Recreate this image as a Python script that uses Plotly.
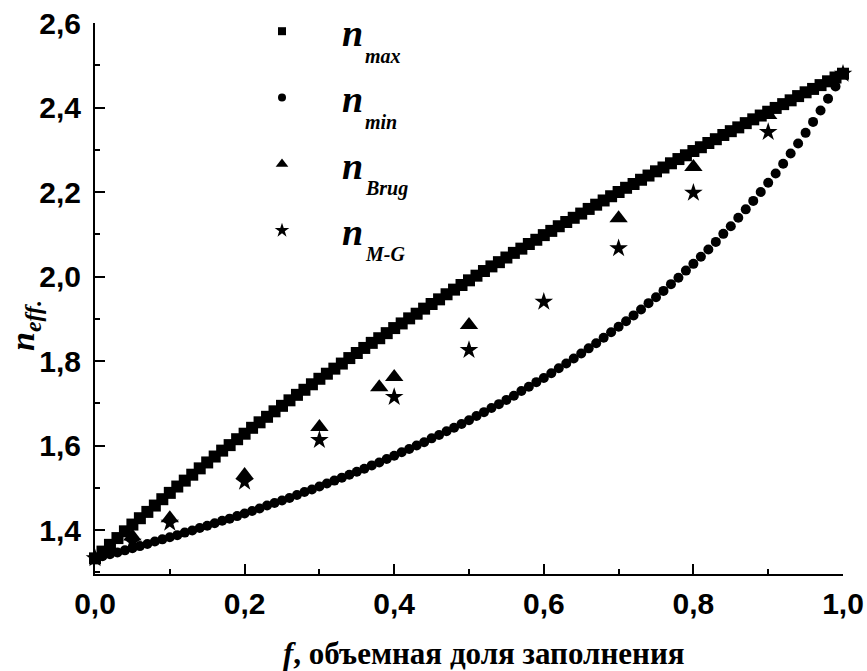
import plotly.graph_objects as go

# volume filling fraction grid for the bound curves
f_grid = [0.00, 0.01, 0.02, 0.03, 0.04, 0.05, 0.06, 0.07, 0.08, 0.09,
          0.10, 0.11, 0.12, 0.13, 0.14, 0.15, 0.16, 0.17, 0.18, 0.19,
          0.20, 0.21, 0.22, 0.23, 0.24, 0.25, 0.26, 0.27, 0.28, 0.29,
          0.30, 0.31, 0.32, 0.33, 0.34, 0.35, 0.36, 0.37, 0.38, 0.39,
          0.40, 0.41, 0.42, 0.43, 0.44, 0.45, 0.46, 0.47, 0.48, 0.49,
          0.50, 0.51, 0.52, 0.53, 0.54, 0.55, 0.56, 0.57, 0.58, 0.59,
          0.60, 0.61, 0.62, 0.63, 0.64, 0.65, 0.66, 0.67, 0.68, 0.69,
          0.70, 0.71, 0.72, 0.73, 0.74, 0.75, 0.76, 0.77, 0.78, 0.79,
          0.80, 0.81, 0.82, 0.83, 0.84, 0.85, 0.86, 0.87, 0.88, 0.89,
          0.90, 0.91, 0.92, 0.93, 0.94, 0.95, 0.96, 0.97, 0.98, 0.99,
          1.00]

# upper bound n_max
n_max = [1.333, 1.349, 1.365, 1.381, 1.397, 1.413, 1.428, 1.443, 1.458, 1.473,
         1.488, 1.503, 1.517, 1.531, 1.546, 1.560, 1.574, 1.588, 1.601, 1.615,
         1.628, 1.642, 1.655, 1.668, 1.681, 1.694, 1.707, 1.720, 1.732, 1.745,
         1.758, 1.770, 1.782, 1.794, 1.807, 1.819, 1.831, 1.843, 1.854, 1.866,
         1.878, 1.889, 1.901, 1.912, 1.924, 1.935, 1.946, 1.958, 1.969, 1.980,
         1.991, 2.002, 2.013, 2.024, 2.034, 2.045, 2.056, 2.066, 2.077, 2.087,
         2.098, 2.108, 2.119, 2.129, 2.139, 2.149, 2.160, 2.170, 2.180, 2.190,
         2.200, 2.210, 2.219, 2.229, 2.239, 2.249, 2.258, 2.268, 2.278, 2.287,
         2.297, 2.306, 2.316, 2.325, 2.335, 2.344, 2.353, 2.363, 2.372, 2.381,
         2.390, 2.399, 2.408, 2.417, 2.427, 2.436, 2.444, 2.453, 2.462, 2.471,
         2.480]

# lower bound n_min
n_min = [1.333, 1.338, 1.343, 1.347, 1.352, 1.357, 1.362, 1.367, 1.373, 1.378,
         1.383, 1.388, 1.394, 1.399, 1.405, 1.410, 1.416, 1.422, 1.427, 1.433,
         1.439, 1.445, 1.451, 1.458, 1.464, 1.470, 1.476, 1.483, 1.490, 1.496,
         1.503, 1.510, 1.517, 1.524, 1.531, 1.538, 1.545, 1.553, 1.560, 1.568,
         1.576, 1.584, 1.592, 1.600, 1.608, 1.617, 1.625, 1.634, 1.642, 1.651,
         1.660, 1.670, 1.679, 1.689, 1.698, 1.708, 1.718, 1.729, 1.739, 1.750,
         1.760, 1.771, 1.783, 1.794, 1.806, 1.818, 1.830, 1.842, 1.855, 1.868,
         1.881, 1.894, 1.908, 1.922, 1.937, 1.951, 1.966, 1.982, 1.997, 2.014,
         2.030, 2.047, 2.064, 2.082, 2.101, 2.119, 2.139, 2.159, 2.179, 2.200,
         2.222, 2.244, 2.267, 2.291, 2.315, 2.340, 2.366, 2.393, 2.421, 2.450,
         2.480]

# Bruggeman model points
f_brug = [0.05, 0.10, 0.20, 0.30, 0.38, 0.40, 0.50, 0.70, 0.80, 0.90]
n_brug = [1.385, 1.428, 1.530, 1.644, 1.738, 1.762, 1.885, 2.138, 2.259, 2.382]

# Maxwell-Garnett model points
f_mg = [0.00, 0.05, 0.10, 0.20, 0.30, 0.40, 0.50, 0.60, 0.70, 0.80, 0.90, 1.00]
n_mg = [1.333, 1.372, 1.417, 1.514, 1.613, 1.715, 1.826, 1.940, 2.067, 2.198, 2.342, 2.480]

x_ticks = [0.0, 0.2, 0.4, 0.6, 0.8, 1.0]
y_ticks = [1.4, 1.6, 1.8, 2.0, 2.2, 2.4, 2.6]

BLACK = "#000000"
SERIF = "Liberation Serif"
SANS = "Liberation Sans"

fig = go.Figure()

series = [
    (f_grid, n_max, "square", 12, 8, "max"),
    (f_grid, n_min, "circle", 10, 8, "min"),
    (f_brug, n_brug, "triangle-up", 16, 11, "Brug"),
    (f_mg, n_mg, "star", 14, 11, "M-G"),
]

for i, (xs, ys, sym, size, leg_size, sub) in enumerate(series):
    fig.add_trace(go.Scatter(
        x=xs, y=ys, mode="markers",
        marker=dict(symbol=sym, size=size, color=BLACK, line=dict(width=0)),
        showlegend=False, cliponaxis=False,
    ))
    # legend entry with its own symbol size
    fig.add_trace(go.Scatter(
        x=[None], y=[None], mode="markers",
        marker=dict(symbol=sym, size=leg_size, color=BLACK, line=dict(width=0)),
        name="<b><i>n</i></b>", legendgroup=f"g{i}", showlegend=True,
    ))

axis_common = dict(
    showline=True, linecolor=BLACK, linewidth=2, mirror=False,
    showgrid=False, zeroline=False,
    ticks="inside", ticklen=10, tickwidth=2, tickcolor=BLACK,
    tickfont=dict(family=SANS, size=30, color=BLACK, weight="bold"),
    tickformat=".1f",
    minor=dict(ticks="inside", ticklen=5, tickwidth=2, tickcolor=BLACK, dtick=0.1, showgrid=False),
)

fig.update_xaxes(range=[0, 1.0], tickmode="array", tickvals=x_ticks, ticklabelstandoff=2, **axis_common)
fig.update_yaxes(range=[1.296, 2.6], tickmode="array", tickvals=y_ticks, ticklabelstandoff=6, **axis_common)
fig.update_xaxes(minor=dict(tick0=0))
fig.update_yaxes(minor=dict(tick0=1.3))

annotations = []
# subscripts of the legend entries
for j, sub in enumerate(["max", "min", "Brug", "M-G"]):
    annotations.append(dict(
        xref="paper", yref="paper", x=(363 - 95) / 748, y=(574 - (56 + 66 * j)) / 551,
        xanchor="left", yanchor="middle", showarrow=False,
        text=f"<b><i>{sub}</i></b>", font=dict(family=SERIF, size=20, color=BLACK),
    ))

# y-axis title
annotations.append(dict(
    xref="paper", yref="paper", x=0, y=(574 - 326) / 551, xshift=-70,
    xanchor="center", yanchor="middle", showarrow=False, textangle=-90,
    text="<b><i>n</i></b><sub><b><i>eff.</i></b></sub>",
    font=dict(family=SERIF, size=34, color=BLACK),
))
# x-axis title
annotations.append(dict(
    xref="paper", yref="paper", x=(484 - 95) / 748, y=0, yshift=-79,
    xanchor="center", yanchor="middle", showarrow=False,
    text="<b><i>f</i>, объемная доля заполнения</b>",
    font=dict(family=SERIF, size=31, color=BLACK),
))

fig.update_layout(
    width=867, height=671,
    margin=dict(l=95, r=24, t=23, b=97, autoexpand=False),
    paper_bgcolor="white", plot_bgcolor="white",
    separators=", ",
    showlegend=True,
    legend=dict(
        x=(222 - 95) / 748, y=(574 + 0) / 551, xanchor="left", yanchor="top",
        bgcolor="rgba(0,0,0,0)", borderwidth=0,
        font=dict(family=SERIF, size=38, color=BLACK),
        itemwidth=110, tracegroupgap=14, itemsizing="trace",
    ),
    annotations=annotations,
)

fig.write_html("out.html")
